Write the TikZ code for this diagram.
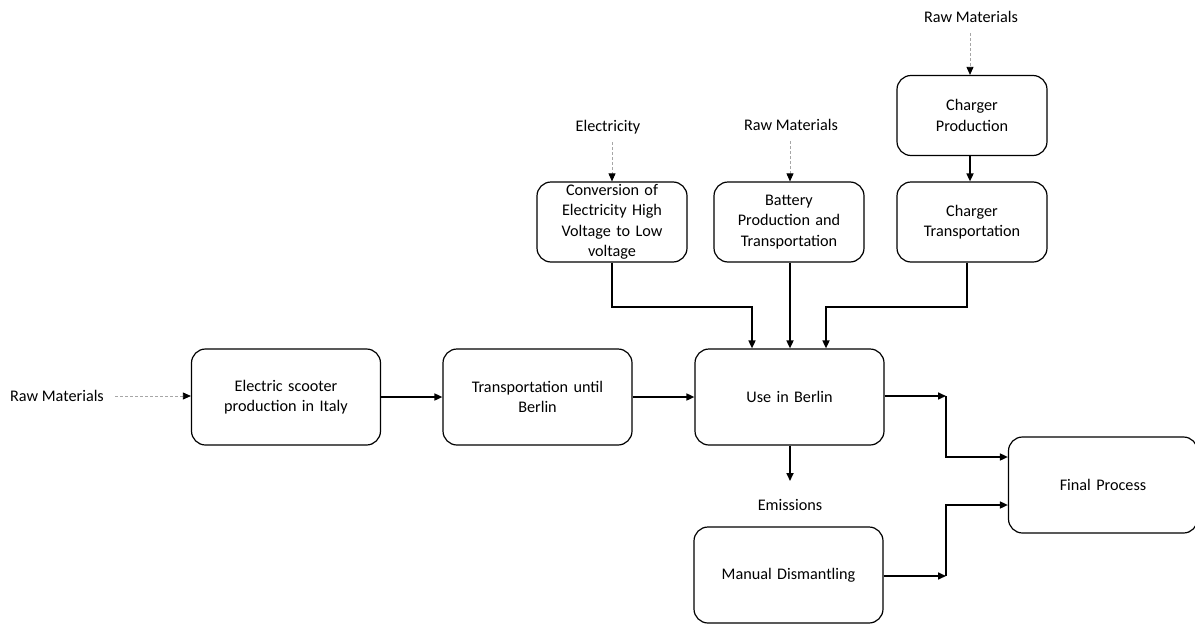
\documentclass[tikz,border=0pt]{standalone}
\usepackage{fontspec}
\setmainfont{Carlito}
\usetikzlibrary{arrows.meta}
\begin{document}
\begin{tikzpicture}[x=1pt,y=-1pt,
  box/.style={draw,line width=1.2pt,rounded corners=14pt,align=center,inner sep=2pt,
    font=\fontsize{16.2}{20.5}\selectfont},
  bigbox/.style={box,minimum width=189pt,minimum height=96pt,text width=160pt},
  smallbox/.style={box,minimum width=150pt,minimum height=80pt,text width=144pt},
  lbl/.style={font=\fontsize{16.2}{20}\selectfont,inner sep=1pt},
  flow/.style={line width=1.6pt,-{Triangle[length=8pt,width=7pt]}},
  inp/.style={draw=gray!70,line width=0.8pt,dash pattern=on 3pt off 2pt,-{Triangle[length=8pt,width=7pt,black]}}]
\useasboundingbox (0,0) rectangle (1195,624);

\node[bigbox] (esp) at (286,397) {Electric scooter\\production in Italy};
\node[bigbox] (tub) at (537.5,397) {Transportation until\\Berlin};
\node[bigbox] (uib) at (789.5,397) {Use in Berlin};
\node[bigbox] (fp) at (1103,485) {Final Process};
\node[bigbox] (md) at (788.5,575) {Manual Dismantling};

\node[smallbox] (conv) at (612,222) {Conversion of\\Electricity High\\Voltage to Low\\voltage};
\node[smallbox] (bat) at (789,222) {Battery\\Production and\\Transportation};
\node[smallbox] (ct) at (972,222) {Charger\\Transportation};
\node[smallbox] (cp) at (972,115.5) {Charger\\Production};

\node[lbl] (rm1) at (57,396) {Raw Materials};
\node[lbl] (el) at (608,127) {Electricity};
\node[lbl] (rm2) at (791,125) {Raw Materials};
\node[lbl] (rm3) at (971,17) {Raw Materials};
\node[lbl] (em) at (790,505) {Emissions};

\draw[inp] (115,396) coordinate (a1) -- (esp.west |- a1);
\draw[inp] (612,142) coordinate (a2) -- (conv.north -| a2);
\draw[inp] (790,141) coordinate (a3) -- (bat.north -| a3);
\draw[inp] (970,33) coordinate (a4) -- (cp.north -| a4);

\draw[flow] (esp.east) -- (tub.west);
\draw[flow] (tub.east) -- (uib.west);
\draw[flow] (cp.south -| 970,0) -- (ct.north -| 970,0);

\coordinate (c1) at (612,307);
\coordinate (c2) at (752,307);
\draw[flow] (conv.south -| c1) -- (c1) -- (c2) -- (uib.north -| c2);
\draw[flow] (bat.south -| 790,0) -- (uib.north -| 790,0);
\coordinate (c3) at (967,307);
\coordinate (c4) at (826,307);
\draw[flow] (ct.south -| c3) -- (c3) -- (c4) -- (uib.north -| c4);

\draw[flow] (uib.south -| 790,0) -- (790,481) coordinate (emtop);

\coordinate (j1) at (946,396);
\coordinate (j2) at (946,457);
\draw[flow] (uib.east |- j1) -- (j1);
\draw[flow] (j1) -- (j2) -- (fp.west |- j2);
\coordinate (j3) at (946,576);
\coordinate (j4) at (946,505);
\draw[flow] (md.east |- j3) -- (j3);
\draw[flow] (j3) -- (j4) -- (fp.west |- j4);
\end{tikzpicture}
\end{document}
